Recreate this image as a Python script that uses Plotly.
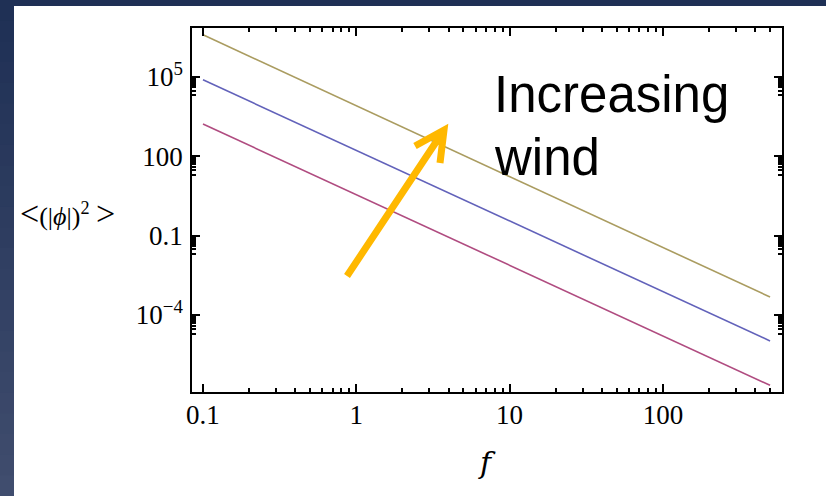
import plotly.graph_objects as go

# ---- data (log-log straight power laws) ----
f = [0.1, 500]
low_wind = [1.66e3, 2.2e-7]
mid_wind = [7.8e4, 1.05e-5]
high_wind = [3.9e6, 4.8e-4]

x_tick_vals = [0.1, 1, 10, 100]
x_tick_text = ["0.1", "1", "10", "100"]
y_tick_vals = [1e-4, 0.1, 100, 1e5]
y_tick_text = ["10<sup>−4</sup>", "0.1", "100", "10<sup>5</sup>"]

x_minor = [k * 10.0 ** n for n in range(-1, 3) for k in range(2, 10) if k * 10.0 ** n < 590]
y_minor = [k * v / 10.0 for v in y_tick_vals for k in range(2, 10)]

W, H = 826, 496
L, R, T, B = 192, 44, 28, 104


def px(x):
    return (x - L) / (W - L - R)


def py(y):
    return (H - B - y) / (H - T - B)


fig = go.Figure()
fig.add_trace(go.Scatter(x=f, y=mid_wind, mode="lines",
                         line=dict(color="rgb(98,98,186)", width=1.6), showlegend=False))
fig.add_trace(go.Scatter(x=f, y=low_wind, mode="lines",
                         line=dict(color="rgb(176,76,128)", width=1.6), showlegend=False))
fig.add_trace(go.Scatter(x=f, y=high_wind, mode="lines",
                         line=dict(color="rgb(170,156,96)", width=1.6), showlegend=False))

shapes = []
# left gradient strip
n = 24
c0 = (31, 48, 85)
c1 = (64, 77, 110)
for i in range(n):
    t = i / (n - 1)
    col = tuple(int(c0[j] + (c1[j] - c0[j]) * t) for j in range(3))
    shapes.append(dict(type="rect", xref="paper", yref="paper", layer="below",
                       x0=px(0), x1=px(14), y0=py(H * i / n), y1=py(H * (i + 1) / n + 1),
                       line=dict(width=0), fillcolor="rgb(%d,%d,%d)" % col))
# white slide area
shapes.append(dict(type="rect", xref="paper", yref="paper", layer="below",
                   x0=px(14), x1=px(W + 2), y0=py(6), y1=py(H + 2),
                   line=dict(width=0), fillcolor="white"))
# arrow
tail = (347, 276)
tip = (444, 130)
w1 = (415, 146)
w2 = (440, 163)
path = "M %f,%f L %f,%f M %f,%f L %f,%f L %f,%f" % (
    px(tail[0]), py(tail[1]), px(tip[0]), py(tip[1]),
    px(w1[0]), py(w1[1]), px(tip[0]), py(tip[1]), px(w2[0]), py(w2[1]))
shapes.append(dict(type="path", xref="paper", yref="paper", layer="above", path=path,
                   line=dict(color="#FFB800", width=7)))

serif = "Liberation Serif"
annotations = [
    dict(text="Increasing", x=px(492), y=py(94.5), xref="paper", yref="paper",
         xanchor="left", yanchor="middle", showarrow=False,
         font=dict(family="Liberation Sans", size=51, color="black")),
    dict(text="wind", x=px(492), y=py(157.5), xref="paper", yref="paper",
         xanchor="left", yanchor="middle", showarrow=False,
         font=dict(family="Liberation Sans", size=51, color="black")),
    dict(text='<span style="font-size:34px">&lt;</span>(|<i>ϕ</i>|)<sup>2</sup> <span style="font-size:34px">&gt;</span>',
         x=px(67), y=py(213), xref="paper", yref="paper",
         xanchor="center", yanchor="middle", showarrow=False,
         font=dict(family=serif, size=26, color="black")),
    dict(text="<i>f</i>", x=px(487), y=py(462), xref="paper", yref="paper",
         xanchor="center", yanchor="middle", showarrow=False,
         font=dict(family="DejaVu Serif", size=30, color="black")),
]

axis_common = dict(
    type="log", showline=True, linecolor="black", linewidth=1.5, mirror="ticks",
    ticks="inside", ticklen=8, tickwidth=2, tickcolor="black",
    tickfont=dict(family=serif, size=27, color="black"),
    showgrid=False, zeroline=False,
)

fig.update_layout(
    width=W, height=H,
    margin=dict(l=L, r=R, t=T, b=B),
    paper_bgcolor="rgb(31,48,85)",
    plot_bgcolor="white",
    shapes=shapes,
    annotations=annotations,
    xaxis=dict(axis_common, range=[-1.0717, 2.777], tickvals=x_tick_vals, ticktext=x_tick_text,
               ticklabelstandoff=-2,
               minor=dict(ticks="inside", ticklen=4, tickwidth=1.5, tickcolor="black",
                          tickvals=x_minor, showgrid=False)),
    yaxis=dict(axis_common, range=[-6.91, 6.85], tickvals=y_tick_vals, ticktext=y_tick_text,
               ticklabelstandoff=2,
               minor=dict(ticks="inside", ticklen=4, tickwidth=1.5, tickcolor="black",
                          tickvals=y_minor, showgrid=False)),
)

fig.write_html("out.html")
